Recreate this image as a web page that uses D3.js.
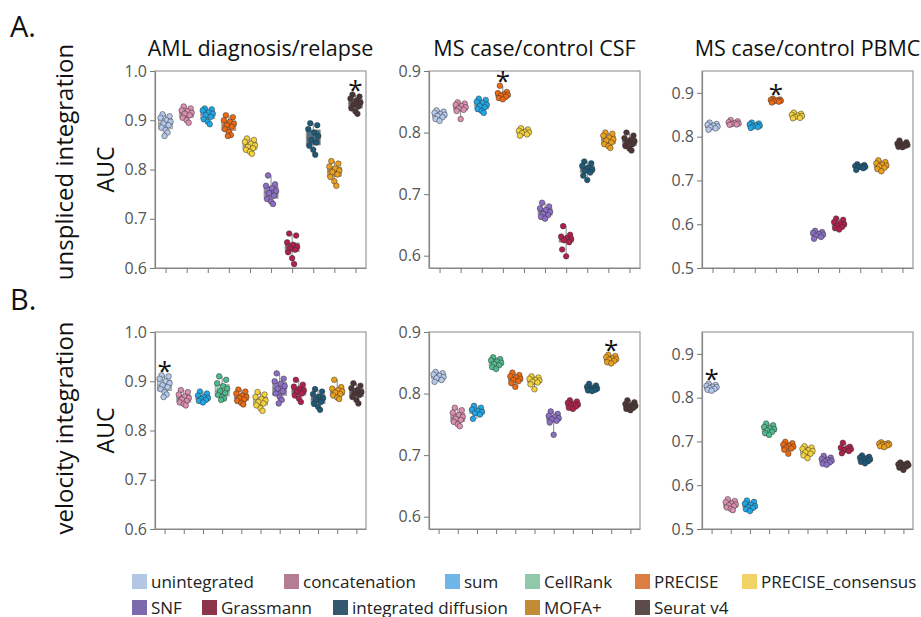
<!DOCTYPE html>
<html>
<head>
<meta charset="utf-8">
<script src="https://cdn.jsdelivr.net/npm/d3@7"></script>
<style>
  body { margin: 0; background: #fff; }
  text { font-family: "Open Sans", "Noto Sans", sans-serif; }
</style>
</head>
<body>
<svg></svg>
<script>
// methods and colours
const methods = ["unintegrated", "concatenation", "sum", "CellRank", "PRECISE", "PRECISE_consensus",
  "SNF", "Grassmann", "integrated diffusion", "MOFA+", "Seurat v4"];
const unsplicedMethods = methods.filter(m => m !== "CellRank");
const swatchColors = ["#b3c6e3", "#b57d93", "#6fb6e8", "#8ecaa9", "#dc7d41", "#f2d165",
  "#7d69ad", "#8c3449", "#34586e", "#c28b34", "#5b4b49"];
const pointColors = ["#b4c9ec", "#dc8fb0", "#1ea8e8", "#4fba8e", "#ee6a12", "#f5d23c",
  "#8d6fc6", "#b0204a", "#1b5a78", "#eea01c", "#4e3636"];

const titles = ["AML diagnosis/relapse", "MS case/control CSF", "MS case/control PBMC"];
const rowLabels = ["unspliced integration", "velocity integration"];

// y ranges and ticks per dataset
const domainAML = [0.6, 1.0], ticksAML = [0.6, 0.7, 0.8, 0.9, 1.0];
const domainCSF = [0.58, 0.9], ticksCSF = [0.6, 0.7, 0.8, 0.9];
const domainPBMC = [0.5, 0.95], ticksPBMC = [0.5, 0.6, 0.7, 0.8, 0.9];

// AUC per run, unspliced integration (no CellRank)
const amlUnspliced = [
  [0.912, 0.908, 0.905, 0.9, 0.897, 0.893, 0.89, 0.885, 0.88, 0.875, 0.868],
  [0.928, 0.924, 0.92, 0.918, 0.915, 0.913, 0.91, 0.905, 0.9, 0.895],
  [0.924, 0.922, 0.92, 0.916, 0.913, 0.91, 0.907, 0.902, 0.897, 0.892],
  [0.91, 0.906, 0.9, 0.897, 0.893, 0.89, 0.887, 0.882, 0.876, 0.87, 0.868],
  [0.863, 0.86, 0.856, 0.852, 0.849, 0.846, 0.843, 0.84, 0.836, 0.832],
  [0.788, 0.77, 0.767, 0.762, 0.756, 0.752, 0.747, 0.74, 0.735, 0.73],
  [0.67, 0.666, 0.652, 0.647, 0.643, 0.64, 0.637, 0.632, 0.62, 0.608],
  [0.894, 0.89, 0.882, 0.875, 0.868, 0.86, 0.855, 0.848, 0.84, 0.83],
  [0.817, 0.812, 0.806, 0.802, 0.798, 0.795, 0.79, 0.785, 0.776, 0.767],
  [0.952, 0.948, 0.944, 0.94, 0.936, 0.932, 0.928, 0.924, 0.918, 0.913]
];
const csfUnspliced = [
  [0.836, 0.834, 0.832, 0.83, 0.829, 0.827, 0.825, 0.822, 0.819],
  [0.849, 0.847, 0.845, 0.843, 0.841, 0.839, 0.837, 0.835, 0.822],
  [0.855, 0.853, 0.85, 0.848, 0.845, 0.843, 0.841, 0.838, 0.835, 0.832],
  [0.876, 0.866, 0.864, 0.862, 0.861, 0.86, 0.858, 0.856, 0.854],
  [0.807, 0.805, 0.803, 0.801, 0.8, 0.799, 0.797, 0.795],
  [0.686, 0.68, 0.677, 0.674, 0.671, 0.668, 0.666, 0.663, 0.66],
  [0.648, 0.634, 0.631, 0.629, 0.627, 0.625, 0.622, 0.61, 0.599],
  [0.753, 0.75, 0.746, 0.743, 0.74, 0.738, 0.735, 0.73, 0.723],
  [0.8, 0.798, 0.795, 0.792, 0.789, 0.787, 0.784, 0.781, 0.778, 0.775],
  [0.8, 0.795, 0.791, 0.788, 0.786, 0.784, 0.781, 0.778, 0.774, 0.771]
];
const pbmcUnspliced = [
  [0.832, 0.829, 0.827, 0.825, 0.823, 0.821, 0.819, 0.816],
  [0.838, 0.835, 0.833, 0.831, 0.83, 0.829, 0.828, 0.827],
  [0.832, 0.83, 0.828, 0.826, 0.825, 0.823, 0.822, 0.82],
  [0.887, 0.885, 0.884, 0.883, 0.882, 0.881, 0.88, 0.878],
  [0.855, 0.852, 0.85, 0.848, 0.847, 0.845, 0.843, 0.842],
  [0.585, 0.582, 0.58, 0.578, 0.576, 0.574, 0.571, 0.567],
  [0.613, 0.61, 0.605, 0.602, 0.6, 0.597, 0.594, 0.591, 0.588],
  [0.737, 0.735, 0.733, 0.732, 0.731, 0.73, 0.728, 0.724],
  [0.746, 0.742, 0.739, 0.736, 0.734, 0.732, 0.729, 0.726, 0.721],
  [0.791, 0.787, 0.784, 0.782, 0.781, 0.78, 0.779, 0.777, 0.776]
];

// AUC per run, velocity integration
const amlVelocity = [
  [0.912, 0.91, 0.905, 0.9, 0.896, 0.892, 0.888, 0.884, 0.878, 0.873, 0.868],
  [0.882, 0.878, 0.873, 0.869, 0.866, 0.863, 0.86, 0.857, 0.854, 0.851],
  [0.879, 0.875, 0.871, 0.868, 0.866, 0.864, 0.862, 0.86, 0.857],
  [0.91, 0.903, 0.896, 0.89, 0.885, 0.88, 0.876, 0.872, 0.868, 0.865, 0.862],
  [0.883, 0.879, 0.875, 0.871, 0.868, 0.866, 0.863, 0.86, 0.856, 0.853],
  [0.878, 0.873, 0.868, 0.864, 0.861, 0.858, 0.855, 0.851, 0.845, 0.84],
  [0.916, 0.905, 0.9, 0.895, 0.89, 0.885, 0.88, 0.875, 0.868, 0.862, 0.855],
  [0.903, 0.893, 0.889, 0.885, 0.881, 0.878, 0.875, 0.871, 0.865, 0.858],
  [0.884, 0.879, 0.874, 0.869, 0.866, 0.862, 0.858, 0.854, 0.848, 0.842],
  [0.903, 0.888, 0.885, 0.882, 0.879, 0.877, 0.874, 0.871, 0.867, 0.864],
  [0.896, 0.891, 0.886, 0.882, 0.878, 0.875, 0.872, 0.868, 0.862, 0.855]
];
const csfVelocity = [
  [0.835, 0.833, 0.831, 0.829, 0.827, 0.825, 0.822, 0.819],
  [0.777, 0.773, 0.769, 0.765, 0.762, 0.759, 0.757, 0.754, 0.75, 0.747],
  [0.78, 0.777, 0.774, 0.772, 0.77, 0.768, 0.766, 0.759],
  [0.859, 0.856, 0.854, 0.852, 0.85, 0.848, 0.846, 0.843, 0.84],
  [0.834, 0.83, 0.828, 0.826, 0.824, 0.822, 0.82, 0.817, 0.811],
  [0.828, 0.826, 0.824, 0.822, 0.821, 0.819, 0.818, 0.815, 0.807],
  [0.771, 0.767, 0.764, 0.762, 0.76, 0.758, 0.756, 0.753, 0.733],
  [0.789, 0.787, 0.785, 0.783, 0.782, 0.781, 0.779, 0.777, 0.775],
  [0.816, 0.813, 0.811, 0.809, 0.808, 0.807, 0.806, 0.805, 0.804],
  [0.863, 0.861, 0.859, 0.857, 0.856, 0.855, 0.853, 0.851, 0.849],
  [0.789, 0.786, 0.783, 0.781, 0.78, 0.779, 0.777, 0.775, 0.773]
];
const pbmcVelocity = [
  [0.832, 0.829, 0.827, 0.825, 0.824, 0.822, 0.82, 0.818, 0.816],
  [0.568, 0.564, 0.561, 0.558, 0.556, 0.554, 0.552, 0.549, 0.546, 0.543],
  [0.565, 0.562, 0.558, 0.555, 0.552, 0.55, 0.548, 0.545, 0.541],
  [0.741, 0.737, 0.733, 0.73, 0.728, 0.725, 0.722, 0.719, 0.715],
  [0.699, 0.696, 0.693, 0.69, 0.688, 0.686, 0.684, 0.681, 0.672],
  [0.689, 0.686, 0.683, 0.68, 0.678, 0.675, 0.672, 0.668, 0.662],
  [0.667, 0.663, 0.66, 0.658, 0.656, 0.654, 0.652, 0.649, 0.647],
  [0.697, 0.688, 0.686, 0.684, 0.682, 0.68, 0.678, 0.673],
  [0.668, 0.665, 0.663, 0.661, 0.659, 0.657, 0.655, 0.653, 0.65],
  [0.698, 0.696, 0.695, 0.694, 0.693, 0.692, 0.691, 0.689, 0.687],
  [0.652, 0.65, 0.648, 0.647, 0.646, 0.645, 0.643, 0.64, 0.635]
];

// best method per panel (asterisk)
const bestUnspliced = ["Seurat v4", "PRECISE", "PRECISE"];
const bestVelocity = ["unintegrated", "MOFA+", "unintegrated"];

// layout
const width = 921, height = 617;
const colX = [155, 429, 702], plotW = 211;
const rowY = [71, 332], plotH = 197;
const rowLabelY = [162, 428];
const boxW = 14, dotR = 2.8;
const jitter = [-3, 4, -5, 1, 5, -2, 3, -4, 0, 2, -1];

const svg = d3.select("svg").attr("width", width).attr("height", height);

const panels = [
  { row: 0, col: 0, data: amlUnspliced, cats: unsplicedMethods, domain: domainAML, ticks: ticksAML, best: bestUnspliced[0] },
  { row: 0, col: 1, data: csfUnspliced, cats: unsplicedMethods, domain: domainCSF, ticks: ticksCSF, best: bestUnspliced[1] },
  { row: 0, col: 2, data: pbmcUnspliced, cats: unsplicedMethods, domain: domainPBMC, ticks: ticksPBMC, best: bestUnspliced[2] },
  { row: 1, col: 0, data: amlVelocity, cats: methods, domain: domainAML, ticks: ticksAML, best: bestVelocity[0] },
  { row: 1, col: 1, data: csfVelocity, cats: methods, domain: domainCSF, ticks: ticksCSF, best: bestVelocity[1] },
  { row: 1, col: 2, data: pbmcVelocity, cats: methods, domain: domainPBMC, ticks: ticksPBMC, best: bestVelocity[2] }
];

panels.forEach(p => {
  const g = svg.append("g").attr("transform", `translate(${colX[p.col]},${rowY[p.row]})`);
  const x = d3.scalePoint().domain(p.cats).range([0, plotW]).padding(0.5);
  const y = d3.scaleLinear().domain(p.domain).range([plotH, 0]);

  // frame
  g.append("rect").attr("width", plotW).attr("height", plotH)
    .attr("fill", "none").attr("stroke", "#9a9a9a").attr("stroke-width", 1.2);

  const yAxis = g.append("g").call(d3.axisLeft(y).tickValues(p.ticks).tickFormat(d3.format(".1f")).tickSize(5).tickSizeOuter(0));
  const xAxis = g.append("g").attr("transform", `translate(0,${plotH})`)
    .call(d3.axisBottom(x).tickFormat("").tickSize(5).tickSizeOuter(0));
  [yAxis, xAxis].forEach(a => {
    a.select(".domain").attr("stroke", "#888").attr("stroke-width", 1.2);
    a.selectAll(".tick line").attr("stroke", "#777");
  });
  yAxis.selectAll(".tick text").attr("fill", "#555").attr("font-size", 16)
    .attr("font-family", "'Liberation Sans', Arial, sans-serif");

  const groups = g.selectAll("g.method")
    .data(p.cats.map((m, i) => ({ m, vals: p.data[i].slice().sort(d3.ascending) })))
    .join("g").attr("class", "method")
    .attr("transform", d => `translate(${x(d.m)},0)`);

  groups.each(function(d) {
    const grp = d3.select(this);
    const ci = methods.indexOf(d.m);
    const q1 = d3.quantile(d.vals, 0.25), med = d3.quantile(d.vals, 0.5), q3 = d3.quantile(d.vals, 0.75);
    const lo = d3.min(d.vals), hi = d3.max(d.vals);

    grp.append("line").attr("y1", y(lo)).attr("y2", y(hi))
      .attr("stroke", "#888").attr("stroke-width", 1);
    grp.append("rect").attr("x", -boxW / 2).attr("width", boxW)
      .attr("y", y(q3)).attr("height", Math.max(1, y(q1) - y(q3)))
      .attr("fill", swatchColors[ci]).attr("fill-opacity", 0.85)
      .attr("stroke", "#999").attr("stroke-width", 0.8);
    grp.append("line").attr("x1", -boxW / 2).attr("x2", boxW / 2)
      .attr("y1", y(med)).attr("y2", y(med)).attr("stroke", "#666").attr("stroke-width", 0.8);

    grp.selectAll("circle").data(p.data[p.cats.indexOf(d.m)])
      .join("circle")
      .attr("cx", (v, i) => jitter[i % jitter.length])
      .attr("cy", v => y(v))
      .attr("r", dotR)
      .attr("fill", pointColors[ci])
      .attr("stroke", "#333").attr("stroke-width", 0.5);

    if (d.m === p.best) {
      grp.append("text").attr("y", y(hi) - 5).attr("text-anchor", "middle")
        .attr("font-size", 26).attr("fill", "#111").text("*")
        .attr("dy", "0.55em").attr("transform", "translate(0,-5)");
    }
  });
});

// panel titles
svg.selectAll("text.title").data(titles).join("text").attr("class", "title")
  .attr("x", (d, i) => colX[i] + plotW / 2).attr("y", 56)
  .attr("text-anchor", "middle").attr("font-size", 21.5).attr("fill", "#111").text(d => d);

// row letters
svg.selectAll("text.letter").data(["A.", "B."]).join("text").attr("class", "letter")
  .attr("x", 10).attr("y", (d, i) => [37, 310][i])
  .attr("font-size", 29).attr("fill", "#111").text(d => d);

// row labels and AUC
rowLabels.forEach((lab, i) => {
  svg.append("text").attr("transform", `translate(73,${rowLabelY[i]}) rotate(-90)`)
    .attr("text-anchor", "middle").attr("font-size", 24).attr("fill", "#111").text(lab);
  svg.append("text").attr("transform", `translate(114,${rowY[i] + plotH / 2}) rotate(-90)`)
    .attr("text-anchor", "middle").attr("font-size", 23).attr("fill", "#111").text("AUC");
});

// legend
const legendRows = [methods.slice(0, 6), methods.slice(6)];
const legendX = [[132, 284, 445, 525, 635, 742], [132, 202, 333, 525, 635]];
const legendY = [574, 600];
legendRows.forEach((row, r) => {
  row.forEach((m, j) => {
    const lg = svg.append("g").attr("transform", `translate(${legendX[r][j]},${legendY[r]})`);
    lg.append("rect").attr("width", 15).attr("height", 15).attr("fill", swatchColors[methods.indexOf(m)]);
    lg.append("text").attr("x", 19).attr("y", 13.5).attr("font-size", 17).attr("fill", "#222").text(m);
  });
});
</script>
</body>
</html>
